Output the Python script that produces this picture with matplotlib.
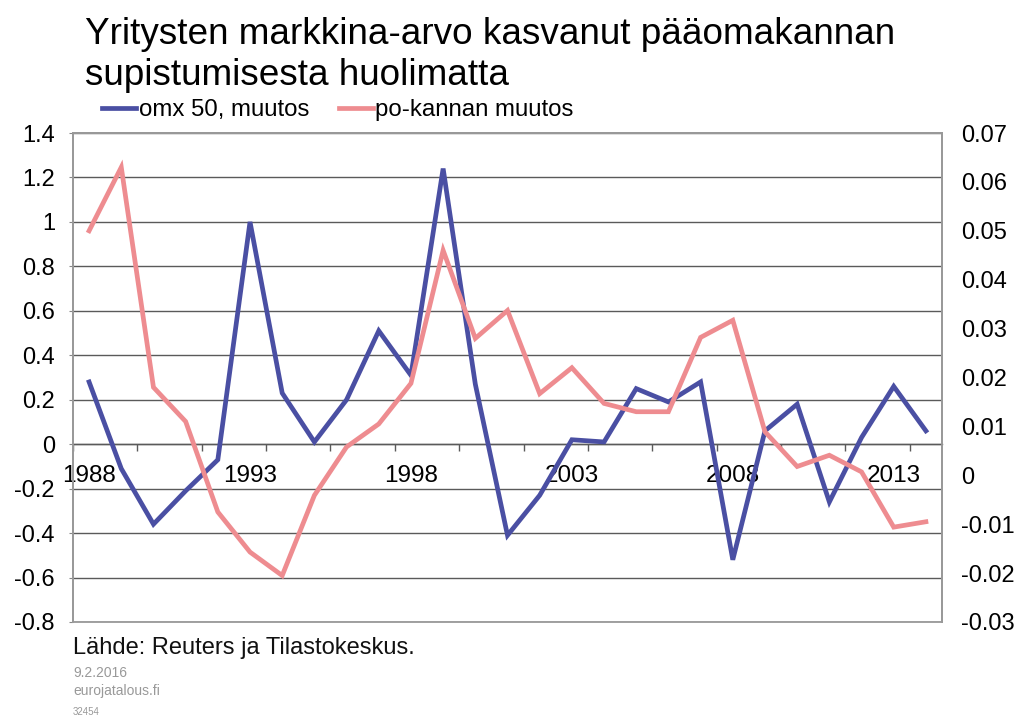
import matplotlib
matplotlib.use("Agg")
import matplotlib.pyplot as plt
from matplotlib.ticker import FixedLocator, NullFormatter, FixedFormatter

years = list(range(1988, 2015))
omx_change = [0.28, -0.11, -0.36, -0.21, -0.07, 1.00, 0.23, 0.01, 0.20, 0.51,
              0.31, 1.24, 0.27, -0.41, -0.23, 0.02, 0.01, 0.25, 0.19, 0.28,
              -0.52, 0.06, 0.18, -0.26, 0.03, 0.26, 0.06]
po_change = [0.050, 0.063, 0.018, 0.011, -0.0075, -0.0157, -0.0205, -0.0041, 0.0058, 0.0105,
             0.0188, 0.046, 0.028, 0.0337, 0.0167, 0.022, 0.0147, 0.013, 0.013, 0.0282,
             0.0317, 0.0089, 0.0018, 0.0041, 0.0007, -0.0106, -0.0095]
label_years = [1988, 1993, 1998, 2003, 2008, 2013]
left_ticks = [-0.8, -0.6, -0.4, -0.2, 0, 0.2, 0.4, 0.6, 0.8, 1, 1.2, 1.4]
right_ticks = [-0.03, -0.02, -0.01, 0, 0.01, 0.02, 0.03, 0.04, 0.05, 0.06, 0.07]

title = "Yritysten markkina-arvo kasvanut pääomakannan\nsupistumisesta huolimatta"
series_names = ["omx 50, muutos", "po-kannan muutos"]

plt.rcParams['font.family'] = ['Liberation Sans', 'DejaVu Sans']

BLUE = "#4A4FA3"
PINK = "#EE8C90"

W, H = 1022, 718
fig = plt.figure(figsize=(W / 100, H / 100), dpi=100)
L, R, T, B = 73, 942, 133, 622
ax = fig.add_axes([L / W, 1 - B / H, (R - L) / W, (B - T) / H])
ax2 = ax.twinx()

xs = [i + 0.5 for i in range(len(years))]
ax.set_xlim(0, len(years))
ax.set_ylim(-0.8, 1.4)
ax2.set_ylim(-0.03, 0.07)

l1, = ax.plot(xs, omx_change, color=BLUE, lw=3.4, solid_joinstyle='miter', zorder=3)
l2, = ax2.plot(xs, po_change, color=PINK, lw=3.4, solid_joinstyle='miter', zorder=3)

# left axis
ax.set_yticks(left_ticks)
ax.set_yticklabels([f"{v:g}" for v in left_ticks], fontsize=17)
ax.yaxis.grid(True, color="#5a5a5a", lw=1.0)
ax.tick_params(axis='y', length=3, color="#888888", pad=10)
ax.set_axisbelow(True)

# category axis crossing at 0
ax.spines['bottom'].set_position(('data', 0))
ax.spines['bottom'].set_color("#5a5a5a")
ax.spines['bottom'].set_linewidth(1.0)
ax.xaxis.set_major_locator(FixedLocator(list(range(0, len(years) + 1, 2))))
ax.xaxis.set_major_formatter(NullFormatter())
ax.tick_params(axis='x', which='major', length=5, width=1, color="#5a5a5a", direction='out')
label_pos = [years.index(y) + 0.5 for y in label_years]
ax.xaxis.set_minor_locator(FixedLocator(label_pos))
ax.xaxis.set_minor_formatter(FixedFormatter([str(y) for y in label_years]))
ax.tick_params(axis='x', which='minor', length=0, pad=15, labelsize=17.5)
for sp in ['top', 'right', 'left']:
    ax.spines[sp].set_color("#999999")
    ax.spines[sp].set_linewidth(1.3)

# right axis
ax2.set_yticks(right_ticks)
ax2.set_yticklabels([f"{v:g}" for v in right_ticks], fontsize=17)
ax2.tick_params(axis='y', length=0, pad=14)
for sp in ['top', 'right', 'left', 'bottom']:
    ax2.spines[sp].set_color("#999999")
    ax2.spines[sp].set_linewidth(1.3)

fig.text(85 / W, 1 - 17 / H, title, fontsize=26.6, va='top', ha='left',
         linespacing=1.22)

fig.legend([l1, l2], series_names, loc='center left', bbox_to_anchor=(102 / W, 1 - 110 / H),
           ncol=2, frameon=False, handlelength=1.4, handletextpad=0.12,
           columnspacing=1.25, borderaxespad=0, borderpad=0, prop={'size': 17.3})

fig.text(73 / W, 1 - 648 / H, "Lähde: Reuters ja Tilastokeskus.", fontsize=17,
         va='center', ha='left', color="#111111")
fig.text(73 / W, 1 - 673 / H, "9.2.2016", fontsize=10, va='center', ha='left', color="#999999")
fig.text(73 / W, 1 - 691 / H, "eurojatalous.fi", fontsize=10, va='center', ha='left', color="#999999")
fig.text(73 / W, 1 - 712 / H, "32454", fontsize=7, va='center', ha='left', color="#999999")

fig.savefig("out.png", dpi=100)
